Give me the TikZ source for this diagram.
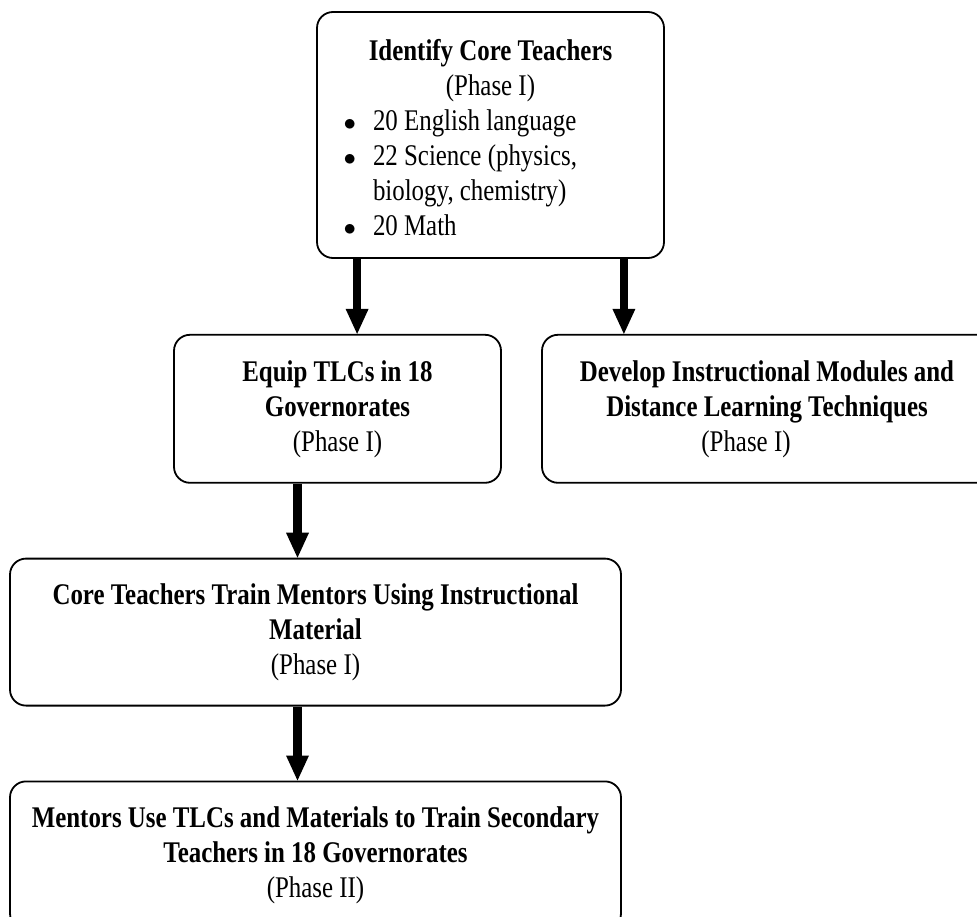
\documentclass[tikz,border=0pt]{standalone}
\usepackage{fontspec}
\setmainfont{Liberation Serif}[FakeStretch=0.83]
\usepackage{tikz}
\usetikzlibrary{arrows.meta,positioning}

\newcommand{\litem}{\par\noindent\llap{$\bullet$\hspace{17pt}}}

\begin{document}
\begin{tikzpicture}[
    x=1pt, y=1pt,
    node distance=75pt,
    font=\fontsize{30}{35}\selectfont,
    box/.style={rectangle, draw, line width=1.8pt, rounded corners=16pt, inner sep=0pt, align=center},
    flow/.style={line width=8.5pt, -{Triangle[width=23pt, length=25pt, line width=0pt]}}
]
    \useasboundingbox (0,0) rectangle (977,-917);

    \node[box, minimum width=347pt, minimum height=246pt] (core) at (490.5,-135) {%
        \parbox{347pt}{%
        {\centering\rule{0pt}{27pt}\textbf{Identify Core Teachers}\\(Phase I)\par}
        \raggedright\leftskip=56pt
        \litem 20 English language
        \litem 22 Science (physics,\\biology, chemistry)
        \litem 20 Math\par}};

    \node[box, minimum width=327pt, minimum height=148pt, below=75pt of core, xshift=-153pt] (equip)
        {\textbf{Equip TLCs in 18}\\\textbf{Governorates}\\(Phase I)};
    \node[box, minimum width=482pt, minimum height=148pt, below=75pt of core, xshift=292.5pt] (develop)
        {\parbox{450pt}{\centering\textbf{Develop Instructional Modules and}\\
         \textbf{Distance Learning Techniques}\\\hspace*{-42pt}(Phase I)}\hspace*{32pt}};

    \node[box, minimum width=611pt, minimum height=147pt, below=74pt of equip, xshift=-22pt] (train)
        {\textbf{Core Teachers Train Mentors Using Instructional}\\\textbf{Material}\\(Phase I)};
    \node[box, minimum width=611pt, minimum height=148pt, below=74pt of train] (mentor)
        {\textbf{Mentors Use TLCs and Materials to Train Secondary}\\\textbf{Teachers in 18 Governorates}\\(Phase II)};

    % Arrows
    \draw[flow] ([xshift=41pt]core.south west) -- ([xshift=41pt]core.south west |- equip.north);
    \draw[flow] ([xshift=-41pt]core.south east) -- ([xshift=-41pt]core.south east |- develop.north);
    \draw[flow] ([xshift=-40pt]equip.south) -- ([xshift=-40pt]equip.south |- train.north);
    \draw[flow] ([xshift=-18pt]train.south) -- ([xshift=-18pt]train.south |- mentor.north);
\end{tikzpicture}
\end{document}
